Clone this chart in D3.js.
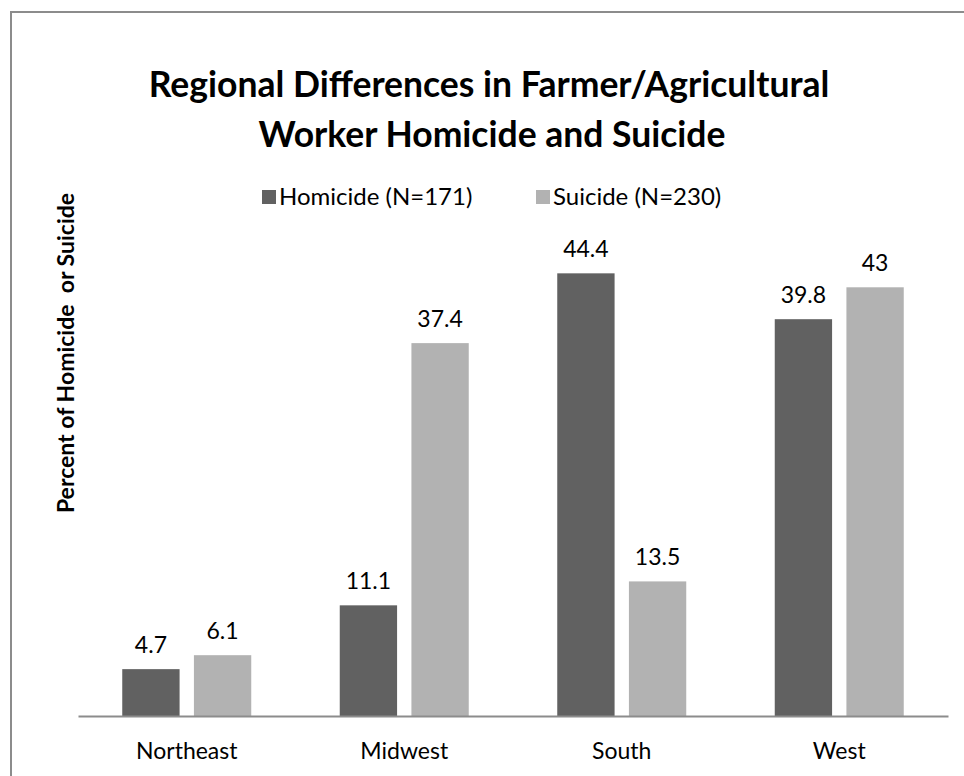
<!DOCTYPE html>
<html>
<head>
<meta charset="utf-8">
<script src="https://cdn.jsdelivr.net/npm/d3@7"></script>
<style>
  html, body { margin: 0; padding: 0; background: #fff; }
  svg { display: block; font-family: Lato, "Open Sans", sans-serif; }
</style>
</head>
<body>
<svg id="chart" width="964" height="776"></svg>
<script>
const regions = ['Northeast', 'Midwest', 'South', 'West'];
const seriesNames = ['Homicide (N=171)', 'Suicide (N=230)'];
const homicide = [4.7, 11.1, 44.4, 39.8];
const suicide = [6.1, 37.4, 13.5, 43];
const seriesColors = ['#616161', '#b2b2b2'];

const svg = d3.select('#chart');
const margin = {left: 78, right: 16, top: 217.5, bottom: 60};
const width = 964;
const height = 776;

// outer frame
svg.append('rect')
	.attr('x', 11)
	.attr('y', 12)
	.attr('width', 1000)
	.attr('height', 1000)
	.attr('fill', 'none')
	.attr('stroke', '#8c8c8c')
	.attr('stroke-width', 2);

const x0 = d3.scaleBand()
	.domain(regions)
	.range([margin.left, width - margin.right])
	.padding(0);

const x1 = d3.scaleBand()
	.domain([0, 1])
	.range([44.25, x0.bandwidth() - 44.25])
	.paddingInner(0.2);

const y = d3.scaleLinear()
	.domain([0, 50])
	.range([height - margin.bottom, margin.top]);

const rows = regions.map((r, i) => ({
	region: r,
	values: [homicide[i], suicide[i]]
}));

const groups = svg.append('g')
	.selectAll('g')
	.data(rows)
	.join('g')
	.attr('transform', d => `translate(${x0(d.region)},0)`);

groups.selectAll('rect')
	.data(d => d.values.map((v, k) => ({k, v})))
	.join('rect')
	.attr('x', d => x1(d.k))
	.attr('y', d => y(d.v))
	.attr('width', x1.bandwidth())
	.attr('height', d => y(0) - y(d.v))
	.attr('fill', d => seriesColors[d.k]);

groups.selectAll('text.val')
	.data(d => d.values.map((v, k) => ({k, v})))
	.join('text')
	.attr('class', 'val')
	.attr('x', d => x1(d.k) + x1.bandwidth() / 2)
	.attr('y', d => y(d.v) - 16)
	.attr('text-anchor', 'middle')
	.attr('font-size', 23)
	.attr('fill', '#000')
	.text(d => d.v);

// x axis
const xAxis = svg.append('g')
	.attr('transform', `translate(0,${y(0)})`)
	.call(d3.axisBottom(x0).tickSize(0).tickPadding(27));
xAxis.select('.domain').attr('stroke', '#8c8c8c').attr('stroke-width', 2);
xAxis.selectAll('text')
	.attr('font-size', 23)
	.attr('font-family', 'Lato, sans-serif')
	.attr('fill', '#000');

// title
svg.append('text')
	.attr('x', 489)
	.attr('y', 97)
	.attr('text-anchor', 'middle')
	.attr('font-size', 35.5)
	.attr('font-weight', 'bold')
	.text('Regional Differences in Farmer/Agricultural');
svg.append('text')
	.attr('x', 492)
	.attr('y', 147)
	.attr('text-anchor', 'middle')
	.attr('font-size', 35.5)
	.attr('font-weight', 'bold')
	.text('Worker Homicide and Suicide');

// y axis label
svg.append('text')
	.attr('transform', 'translate(74,353) rotate(-90)')
	.attr('text-anchor', 'middle')
	.attr('font-size', 23)
	.attr('font-weight', 'bold')
	.attr('xml:space', 'preserve')
	.style('white-space', 'pre')
	.text('Percent of Homicide  or Suicide');

// legend
const legend = svg.append('g').attr('transform', 'translate(262,197)');
const legendX = [0, 274];
seriesNames.forEach((name, i) => {
	const item = legend.append('g').attr('transform', `translate(${legendX[i]},0)`);
	item.append('rect')
		.attr('x', 0)
		.attr('y', -7)
		.attr('width', 14)
		.attr('height', 14)
		.attr('fill', seriesColors[i]);
	item.append('text')
		.attr('x', 17)
		.attr('y', 8)
		.attr('font-size', 24)
		.text(name);
});
</script>
</body>
</html>
